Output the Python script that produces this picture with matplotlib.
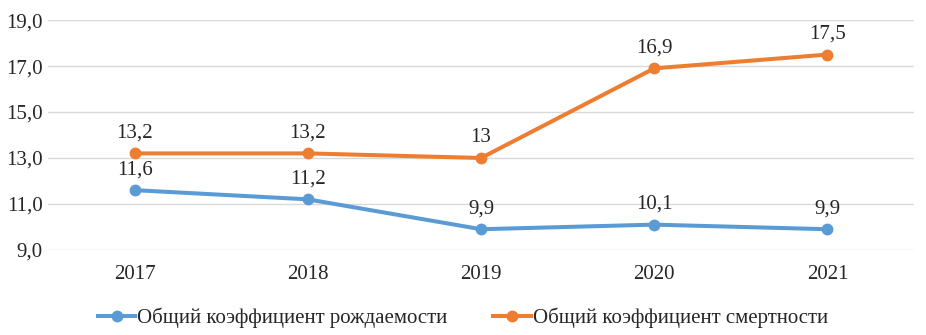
import matplotlib
matplotlib.use("Agg")
import matplotlib.pyplot as plt

years = ["2017", "2018", "2019", "2020", "2021"]
birth = [11.6, 11.2, 9.9, 10.1, 9.9]
death = [13.2, 13.2, 13.0, 16.9, 17.5]
birth_labels = ["11,6", "11,2", "9,9", "10,1", "9,9"]
death_labels = ["13,2", "13,2", "13", "16,9", "17,5"]
yticks = [9, 11, 13, 15, 17, 19]
series_names = ["Общий коэффициент рождаемости", "Общий коэффициент смертности"]

plt.rcParams['font.family'] = ['Liberation Serif', 'DejaVu Serif']

fig = plt.figure(figsize=(9.26, 3.35), dpi=100)
ax = fig.add_axes([0.052, 0.254, 0.935, 0.686])

x = list(range(len(years)))
blue = "#5B9BD5"
orange = "#ED7D31"
ax.plot(x, birth, color=blue, lw=2.9, marker='o', ms=7.5, label=series_names[0], zorder=3)
ax.plot(x, death, color=orange, lw=2.9, marker='o', ms=7.5, label=series_names[1], zorder=3)

fs = 15
for xi, v, t in zip(x, birth, birth_labels):
    ax.annotate(t, (xi, v), xytext=(0, 8), textcoords='offset points', ha='center', va='bottom',
                fontsize=fs, color='#262626')
for xi, v, t in zip(x, death, death_labels):
    ax.annotate(t, (xi, v), xytext=(0, 8), textcoords='offset points', ha='center', va='bottom',
                fontsize=fs, color='#262626')

ax.set_xlim(-0.5, len(years) - 0.5)
ax.set_ylim(9, 19)
ax.set_yticks(yticks)
ax.set_yticklabels([f"{v:.1f}".replace('.', ',') for v in yticks], fontsize=fs, color='#262626')
ax.set_xticks(x)
ax.set_xticklabels(years, fontsize=fs, color='#262626')
ax.tick_params(axis='x', length=0, pad=11)
ax.tick_params(axis='y', length=0, pad=4)
ax.grid(axis='y', color='#D9D9D9', lw=1)
ax.set_axisbelow(True)
for s in ax.spines.values():
    s.set_visible(False)

fig.legend(loc='center', bbox_to_anchor=(0.5, 0.05), ncol=2, frameon=False, fontsize=fs,
           handlelength=1.8, columnspacing=2.2, handletextpad=0.1, labelcolor='#262626')

fig.savefig("out.png", dpi=100)
